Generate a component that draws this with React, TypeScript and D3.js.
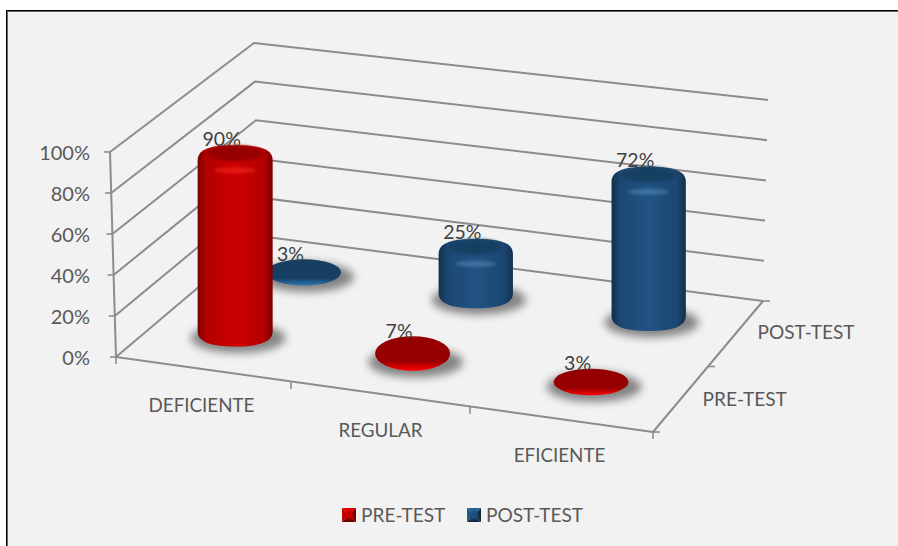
import React from "react";
import * as d3 from "d3";

const categories = ["DEFICIENTE", "REGULAR", "EFICIENTE"];
const seriesNames = ["PRE-TEST", "POST-TEST"];
const preTest = [90, 7, 3];
const postTest = [3, 25, 72];
const valueTicks = [0, 20, 40, 60, 80, 100];

const W = 898, H = 546;
const FONT = "Lato, Carlito, 'Open Sans', sans-serif";
const GRID = "#8c8c8c";
const TXT = "#595959";

// chart box corners: floor and top
const FL = [116, 357], FR = [653, 432], BL = [259, 236], BR = [763, 301];
const FLT = [110, 152], FRT = [649, 227], BLT = [254, 43], BRT = [768, 100];

const lerp = (a: number, b: number, t: number) => a + (b - a) * t;
const bil = (a: number[], b: number[], c: number[], d: number[], u: number, v: number) => {
  const f = [lerp(a[0], b[0], u), lerp(a[1], b[1], u)];
  const k = [lerp(c[0], d[0], u), lerp(c[1], d[1], u)];
  return [lerp(f[0], k[0], v), lerp(f[1], k[1], v)];
};
const hScale = d3.scaleLinear().domain([0, 100]).range([0, 1]);
const project = (u: number, v: number, val: number) => {
  const p0 = bil(FL, FR, BL, BR, u, v);
  const p1 = bil(FLT, FRT, BLT, BRT, u, v);
  const t = hScale(val);
  return [lerp(p0[0], p1[0], t), lerp(p0[1], p1[1], t)];
};

const uScale = d3.scaleLinear().domain([0, 1, 2]).range([0.152, 0.488, 0.826]);
const vScale = d3.scaleOrdinal<string, number>().domain(seriesNames).range([0.272, 0.77]);

type Bar = { s: string; i: number; val: number };
const bars: Bar[] = [];
// back row first, so that nearer bars overlap
postTest.forEach((val, i) => bars.push({ s: seriesNames[1], i, val }));
preTest.forEach((val, i) => bars.push({ s: seriesNames[0], i, val }));

const palettes: Record<string, any> = {
  "PRE-TEST": { id: "red", edge: "#7a0000", side: "#b40000", mid: "#cc0000", cap: "#960000", hi: "#ff3020", rim: "#f00000" },
  "POST-TEST": { id: "blue", edge: "#11304c", side: "#1c4772", mid: "#215383", cap: "#173f63", hi: "#5a90bb", rim: "#2a6ea8" },
};

function Cylinder({ b }: { b: Bar }) {
  const pal = palettes[b.s];
  const u = uScale(b.i), v = vScale(b.s);
  const base = project(u, v, 0);
  const top = project(u, v, b.val);
  const cx = base[0];
  const y0 = base[1], y1 = top[1];
  const rx = 37 + (1 - v) * 0.7;
  const flat = y0 - y1 < 18;
  const yTop = y1 - 8;
  const yBot = y0 + 11.5;
  const shadow = (
    <ellipse cx={cx + 3} cy={y0 + 3} rx={rx + 10} ry={15} fill="#5e5e5e" opacity={0.75} filter="url(#blur)" />
  );
  if (flat) {
    const cy = (yTop - 1 + yBot) / 2;
    const ry = (yBot - yTop + 1) / 2;
    return (
      <g>
        {shadow}
        <ellipse cx={cx} cy={cy} rx={rx} ry={ry} fill={`url(#${pal.id}Flat)`} />
      </g>
    );
  }
  const body = [
    `M${cx - rx},${yTop + 15}`,
    `C${cx - rx},${yTop + 3} ${cx - rx * 0.6},${yTop} ${cx},${yTop}`,
    `C${cx + rx * 0.6},${yTop} ${cx + rx},${yTop + 3} ${cx + rx},${yTop + 15}`,
    `L${cx + rx},${yBot - 15}`,
    `C${cx + rx},${yBot - 4} ${cx + rx * 0.6},${yBot} ${cx},${yBot}`,
    `C${cx - rx * 0.6},${yBot} ${cx - rx},${yBot - 4} ${cx - rx},${yBot - 15}`,
    "Z",
  ].join(" ");
  return (
    <g>
      {shadow}
      <path d={body} fill={`url(#${pal.id}Body)`} />
      <ellipse cx={cx} cy={y1 + 17} rx={rx * 0.55} ry={3} fill={pal.hi} opacity={0.5} filter="url(#blurS)" />
      <ellipse cx={cx} cy={y1} rx={rx * 0.74} ry={8} fill={pal.cap} filter="url(#blurS)" />
    </g>
  );
}

function Swatch({ x, y, id }: { x: number; y: number; id: string }) {
  const s = 14;
  const c = id === "red"
    ? { t: "#e00000", l: "#c00000", r: "#7a0000", b: "#6a0000", m: "#c80000" }
    : { t: "#2a6496", l: "#235a88", r: "#10263c", b: "#122c45", m: "#1f4f7e" };
  return (
    <g>
      <polygon points={`${x},${y} ${x + s},${y} ${x + s / 2},${y + s / 2}`} fill={c.t} />
      <polygon points={`${x},${y} ${x + s / 2},${y + s / 2} ${x},${y + s}`} fill={c.l} />
      <polygon points={`${x + s},${y} ${x + s / 2},${y + s / 2} ${x + s},${y + s}`} fill={c.r} />
      <polygon points={`${x},${y + s} ${x + s / 2},${y + s / 2} ${x + s},${y + s}`} fill={c.b} />
      <rect x={x + 3} y={y + 3} width={s - 6} height={s - 6} fill={c.m} filter="url(#blurT)" />
    </g>
  );
}

export default function App() {
  const textProps = { fontFamily: FONT, fill: TXT };
  return (
    <svg width={W} height={H} style={{ position: "absolute", left: 0, top: 0, display: "block" }}>
      <defs>
        <filter id="blur" x="-40%" y="-60%" width="180%" height="220%"><feGaussianBlur stdDeviation="4.5" /></filter>
        <filter id="blurS" x="-30%" y="-80%" width="160%" height="260%"><feGaussianBlur stdDeviation="1.8" /></filter>
        <filter id="blurT" x="-30%" y="-30%" width="160%" height="160%"><feGaussianBlur stdDeviation="1" /></filter>
        {Object.values(palettes).map((p: any) => (
          <linearGradient key={p.id} id={`${p.id}Body`} x1="0" x2="1" y1="0" y2="0">
            <stop offset="0" stopColor={p.edge} />
            <stop offset="0.12" stopColor={p.side} />
            <stop offset="0.5" stopColor={p.mid} />
            <stop offset="0.88" stopColor={p.side} />
            <stop offset="1" stopColor={p.edge} />
          </linearGradient>
        ))}
        {Object.values(palettes).map((p: any) => (
          <linearGradient key={p.id} id={`${p.id}Flat`} x1="0" x2="0" y1="0" y2="1">
            <stop offset="0" stopColor={p.cap} />
            <stop offset="0.72" stopColor={p.cap} />
            <stop offset="0.95" stopColor={p.rim} />
            <stop offset="1" stopColor={p.rim} />
          </linearGradient>
        ))}
      </defs>
      <rect width={W} height={H} fill="#fff" />
      <rect x={7} y={11} width={W - 7} height={H - 11} fill="#f2f2f2" />
      <line x1={6} x2={W} y1={10.5} y2={10.5} stroke="#000" strokeWidth={1} />
      <line x1={7} x2={W} y1={11.5} y2={11.5} stroke="#666" strokeWidth={1} />
      <line x1={6.5} x2={6.5} y1={10} y2={H} stroke="#000" strokeWidth={1} />
      <line x1={7.5} x2={7.5} y1={11} y2={H} stroke="#666" strokeWidth={1} />

      {valueTicks.map((t) => {
        const a = project(0, 0, t), b = project(0, 1, t), c = project(1, 1, t);
        return (
          <g key={t}>
            <polyline points={`${a} ${b} ${c}`} fill="none" stroke={GRID} strokeWidth={2} />
            <line x1={a[0] - 6} x2={a[0]} y1={a[1]} y2={a[1]} stroke={GRID} strokeWidth={1.6} />
            <text x={90} y={a[1]} textAnchor="end" dominantBaseline="central" fontSize={20} {...textProps}>{t}%</text>
          </g>
        );
      })}
      <line x1={FL[0]} y1={FL[1]} x2={FLT[0]} y2={FLT[1]} stroke={GRID} strokeWidth={2} />
      <line x1={FL[0]} y1={FL[1]} x2={FR[0]} y2={FR[1]} stroke={GRID} strokeWidth={2} />
      <line x1={FR[0]} y1={FR[1]} x2={BR[0]} y2={BR[1]} stroke={GRID} strokeWidth={2} />

      {d3.range(0, categories.length + 1).map((i) => {
        const p = project(i / categories.length, 0, 0);
        const dx = i === 1 || i === 2 ? 4 : 0;
        return <line key={i} x1={p[0] - dx} x2={p[0] - dx} y1={p[1] - 1} y2={p[1] + 7} stroke={GRID} strokeWidth={1.6} />;
      })}
      {d3.range(0, seriesNames.length + 1).map((i) => {
        const p = project(1, i / seriesNames.length, 0);
        return <line key={i} x1={p[0]} x2={p[0] + 7} y1={p[1]} y2={p[1]} stroke={GRID} strokeWidth={1.6} />;
      })}

      {categories.map((c, i) => {
        const p = project((i + 0.5) / categories.length, 0, 0);
        return <text key={c} x={p[0] - 4} y={p[1] + 34.5} textAnchor="middle" dominantBaseline="central" fontSize={18.8} {...textProps}>{c}</text>;
      })}
      {seriesNames.map((s, i) => {
        const p = project(1, (i + 0.5) / seriesNames.length, 0);
        return <text key={s} x={p[0] + 22} y={p[1] + (i === 0 ? -1 : -2)} dominantBaseline="central" fontSize={19.1} {...textProps}>{s}</text>;
      })}

      {bars.map((b) => <Cylinder key={b.s + b.i} b={b} />)}
      {bars.map((b) => {
        const u = uScale(b.i), v = vScale(b.s);
        const base = project(u, v, 0), top = project(u, v, b.val);
        return (
          <text key={b.s + b.i} x={base[0] - 13.5} y={top[1] - 8 - 7} textAnchor="middle" dominantBaseline="central" fontSize={19.5} fill="#404040" fontFamily={FONT}>{b.val}%</text>
        );
      })}

      <Swatch x={342} y={508} id="red" />
      <text x={361} y={514.5} dominantBaseline="central" fontSize={19.1} {...textProps}>{seriesNames[0]}</text>
      <Swatch x={467} y={508} id="blue" />
      <text x={486} y={514.5} dominantBaseline="central" fontSize={19.1} {...textProps}>{seriesNames[1]}</text>
    </svg>
  );
}
